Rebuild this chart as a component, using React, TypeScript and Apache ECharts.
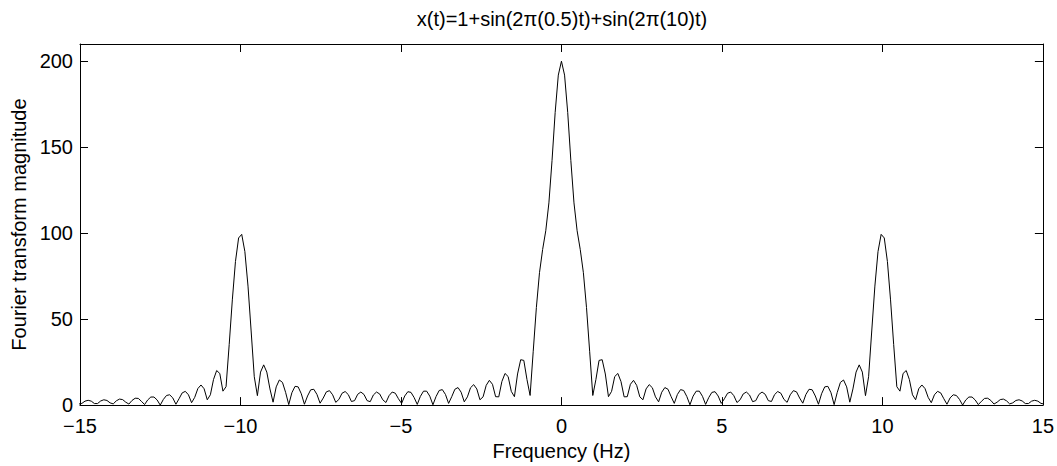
import React, { useEffect, useRef } from "react";
import * as echarts from "echarts";

// Frequency bin width of the plotted spectrum (Hz per bin)
const binHz = 100 / 1024;

// Magnitude for bins 0 .. 154 (f >= 0); the plot is mirror-symmetric about 0 Hz
const magnitudePositive = [
  200, 191.9, 170.2, 142.3, 117.6, 101.4, 90.5, 77.0, 56.7, 31.3,
  5.6, 14.9, 26.0, 26.4, 18.1, 4.9, 8.0, 16.6, 18.4, 13.7,
  4.8, 4.9, 12.1, 14.4, 11.5, 4.8, 3.1, 9.4, 11.9, 10.1,
  4.8, 1.9, 7.5, 10.2, 9.2, 4.9, 1.0, 6.2, 9.0, 8.5,
  5.0, 0.2, 5.2, 8.1, 8.1, 5.1, 0.4, 4.4, 7.4, 7.8,
  5.3, 1.0, 3.7, 6.9, 7.6, 5.5, 1.5, 3.1, 6.5, 7.6,
  5.9, 2.0, 2.6, 6.2, 7.6, 6.3, 2.6, 2.1, 6.1, 7.9,
  6.9, 3.3, 1.6, 6.0, 8.4, 7.7, 4.1, 1.1, 6.2, 9.2,
  8.9, 5.3, 0.5, 6.6, 10.6, 10.9, 7.2, 0.3, 7.4, 13.2,
  14.6, 10.6, 1.7, 9.4, 19.2, 23.4, 19.2, 5.5, 16.5, 43.1,
  69.2, 89.3, 99.3, 97.2, 83.5, 61.2, 35.2, 10.7, 8.1, 18.4,
  20.1, 14.9, 6.0, 3.1, 9.5, 11.7, 9.6, 4.5, 1.4, 6.0,
  8.0, 7.1, 3.7, 0.5, 4.2, 6.0, 5.6, 3.3, 0, 3.0,
  4.7, 4.7, 3.0, 0.3, 2.2, 3.9, 4.0, 2.7, 0.6, 1.7,
  3.2, 3.5, 2.5, 0.7, 1.3, 2.7, 3.1, 2.4, 0.9, 0.9,
  2.3, 2.8, 2.3, 1.0, 0.6,
];

const magnitude = [...magnitudePositive.slice(1).reverse(), ...magnitudePositive];
const firstBin = -(magnitudePositive.length - 1);
const frequencies = magnitude.map((_, i) => (firstBin + i) * binHz);

const xTicks = [-15, -10, -5, 0, 5, 10, 15];
const yTicks = [0, 50, 100, 150, 200];
const yMax = 210;

const titleText = "x(t)=1+sin(2\u03c0(0.5)t)+sin(2\u03c0(10)t)";
const xName = "Frequency (Hz)";
const yName = "Fourier transform magnitude";

const FONT = "'Liberation Sans', Arial, Helvetica, sans-serif";
const FS = 20;

export default function App() {
  const ref = useRef<HTMLDivElement>(null);

  useEffect(() => {
    if (!ref.current) return;
    const chart = echarts.init(ref.current, undefined, { renderer: "svg" });
    const lineStyle = { color: "#000", width: 1 };
    const tick = { show: true, inside: true, length: 8, lineStyle };
    const xMin = xTicks[0];
    const xMax = xTicks[xTicks.length - 1];
    const xInterval = xTicks[1] - xTicks[0];
    const yInterval = yTicks[1] - yTicks[0];
    const fmtX = (v: number) => (v < 0 ? "\u2212" + Math.abs(v) : String(v));
    const fmtY = (v: number) => (yTicks.includes(v) ? String(v) : "");

    chart.setOption({
      animation: false,
      backgroundColor: "#fff",
      grid: { left: 80, right: 13, top: 44, bottom: 57, containLabel: false },
      graphic: [
        {
          type: "text",
          x: 562,
          y: 9,
          style: {
            text: titleText,
            fill: "#000",
            font: `${FS}px ${FONT}`,
            fontSize: FS,
            fontFamily: FONT,
            align: "center",
            textAlign: "center",
            verticalAlign: "top",
            textVerticalAlign: "top",
          },
        },
      ],
      xAxis: [
        {
          type: "value",
          min: xMin,
          max: xMax,
          interval: xInterval,
          position: "bottom",
          axisLine: { show: true, onZero: false, lineStyle },
          axisTick: tick,
          splitLine: { show: false },
          axisLabel: {
            color: "#000",
            fontSize: FS,
            fontFamily: FONT,
            lineHeight: 20,
            margin: 11,
            formatter: fmtX,
          },
          name: xName,
          nameLocation: "middle",
          nameGap: 33,
          nameTextStyle: { color: "#000", fontSize: FS, fontFamily: FONT },
        },
        {
          type: "value",
          min: xMin,
          max: xMax,
          interval: xInterval,
          position: "top",
          axisLine: { show: true, onZero: false, lineStyle },
          axisTick: tick,
          splitLine: { show: false },
          axisLabel: { show: false },
        },
      ],
      yAxis: [
        {
          type: "value",
          min: 0,
          max: yMax,
          interval: yInterval,
          position: "left",
          axisLine: { show: true, onZero: false, lineStyle },
          axisTick: tick,
          splitLine: { show: false },
          axisLabel: {
            color: "#000",
            fontSize: FS,
            fontFamily: FONT,
            lineHeight: 16,
            margin: 7,
            formatter: fmtY,
            showMaxLabel: false,
          },
          name: yName,
          nameLocation: "middle",
          nameGap: 50,
          nameRotate: 90,
          nameTextStyle: { color: "#000", fontSize: FS, fontFamily: FONT },
        },
        {
          type: "value",
          min: 0,
          max: yMax,
          interval: yInterval,
          position: "right",
          axisLine: { show: true, onZero: false, lineStyle },
          axisTick: tick,
          splitLine: { show: false },
          axisLabel: { show: false },
        },
      ],
      series: [
        {
          type: "line",
          xAxisIndex: 0,
          yAxisIndex: 0,
          data: frequencies.map((f, i) => [f, magnitude[i]]),
          showSymbol: false,
          symbol: "none",
          clip: true,
          lineStyle: { color: "#000", width: 1 },
          itemStyle: { color: "#000" },
        },
      ],
    });

    return () => chart.dispose();
  }, []);

  return (
    <div
      ref={ref}
      style={{ position: "absolute", left: 0, top: 0, width: 1057, height: 466 }}
    />
  );
}
